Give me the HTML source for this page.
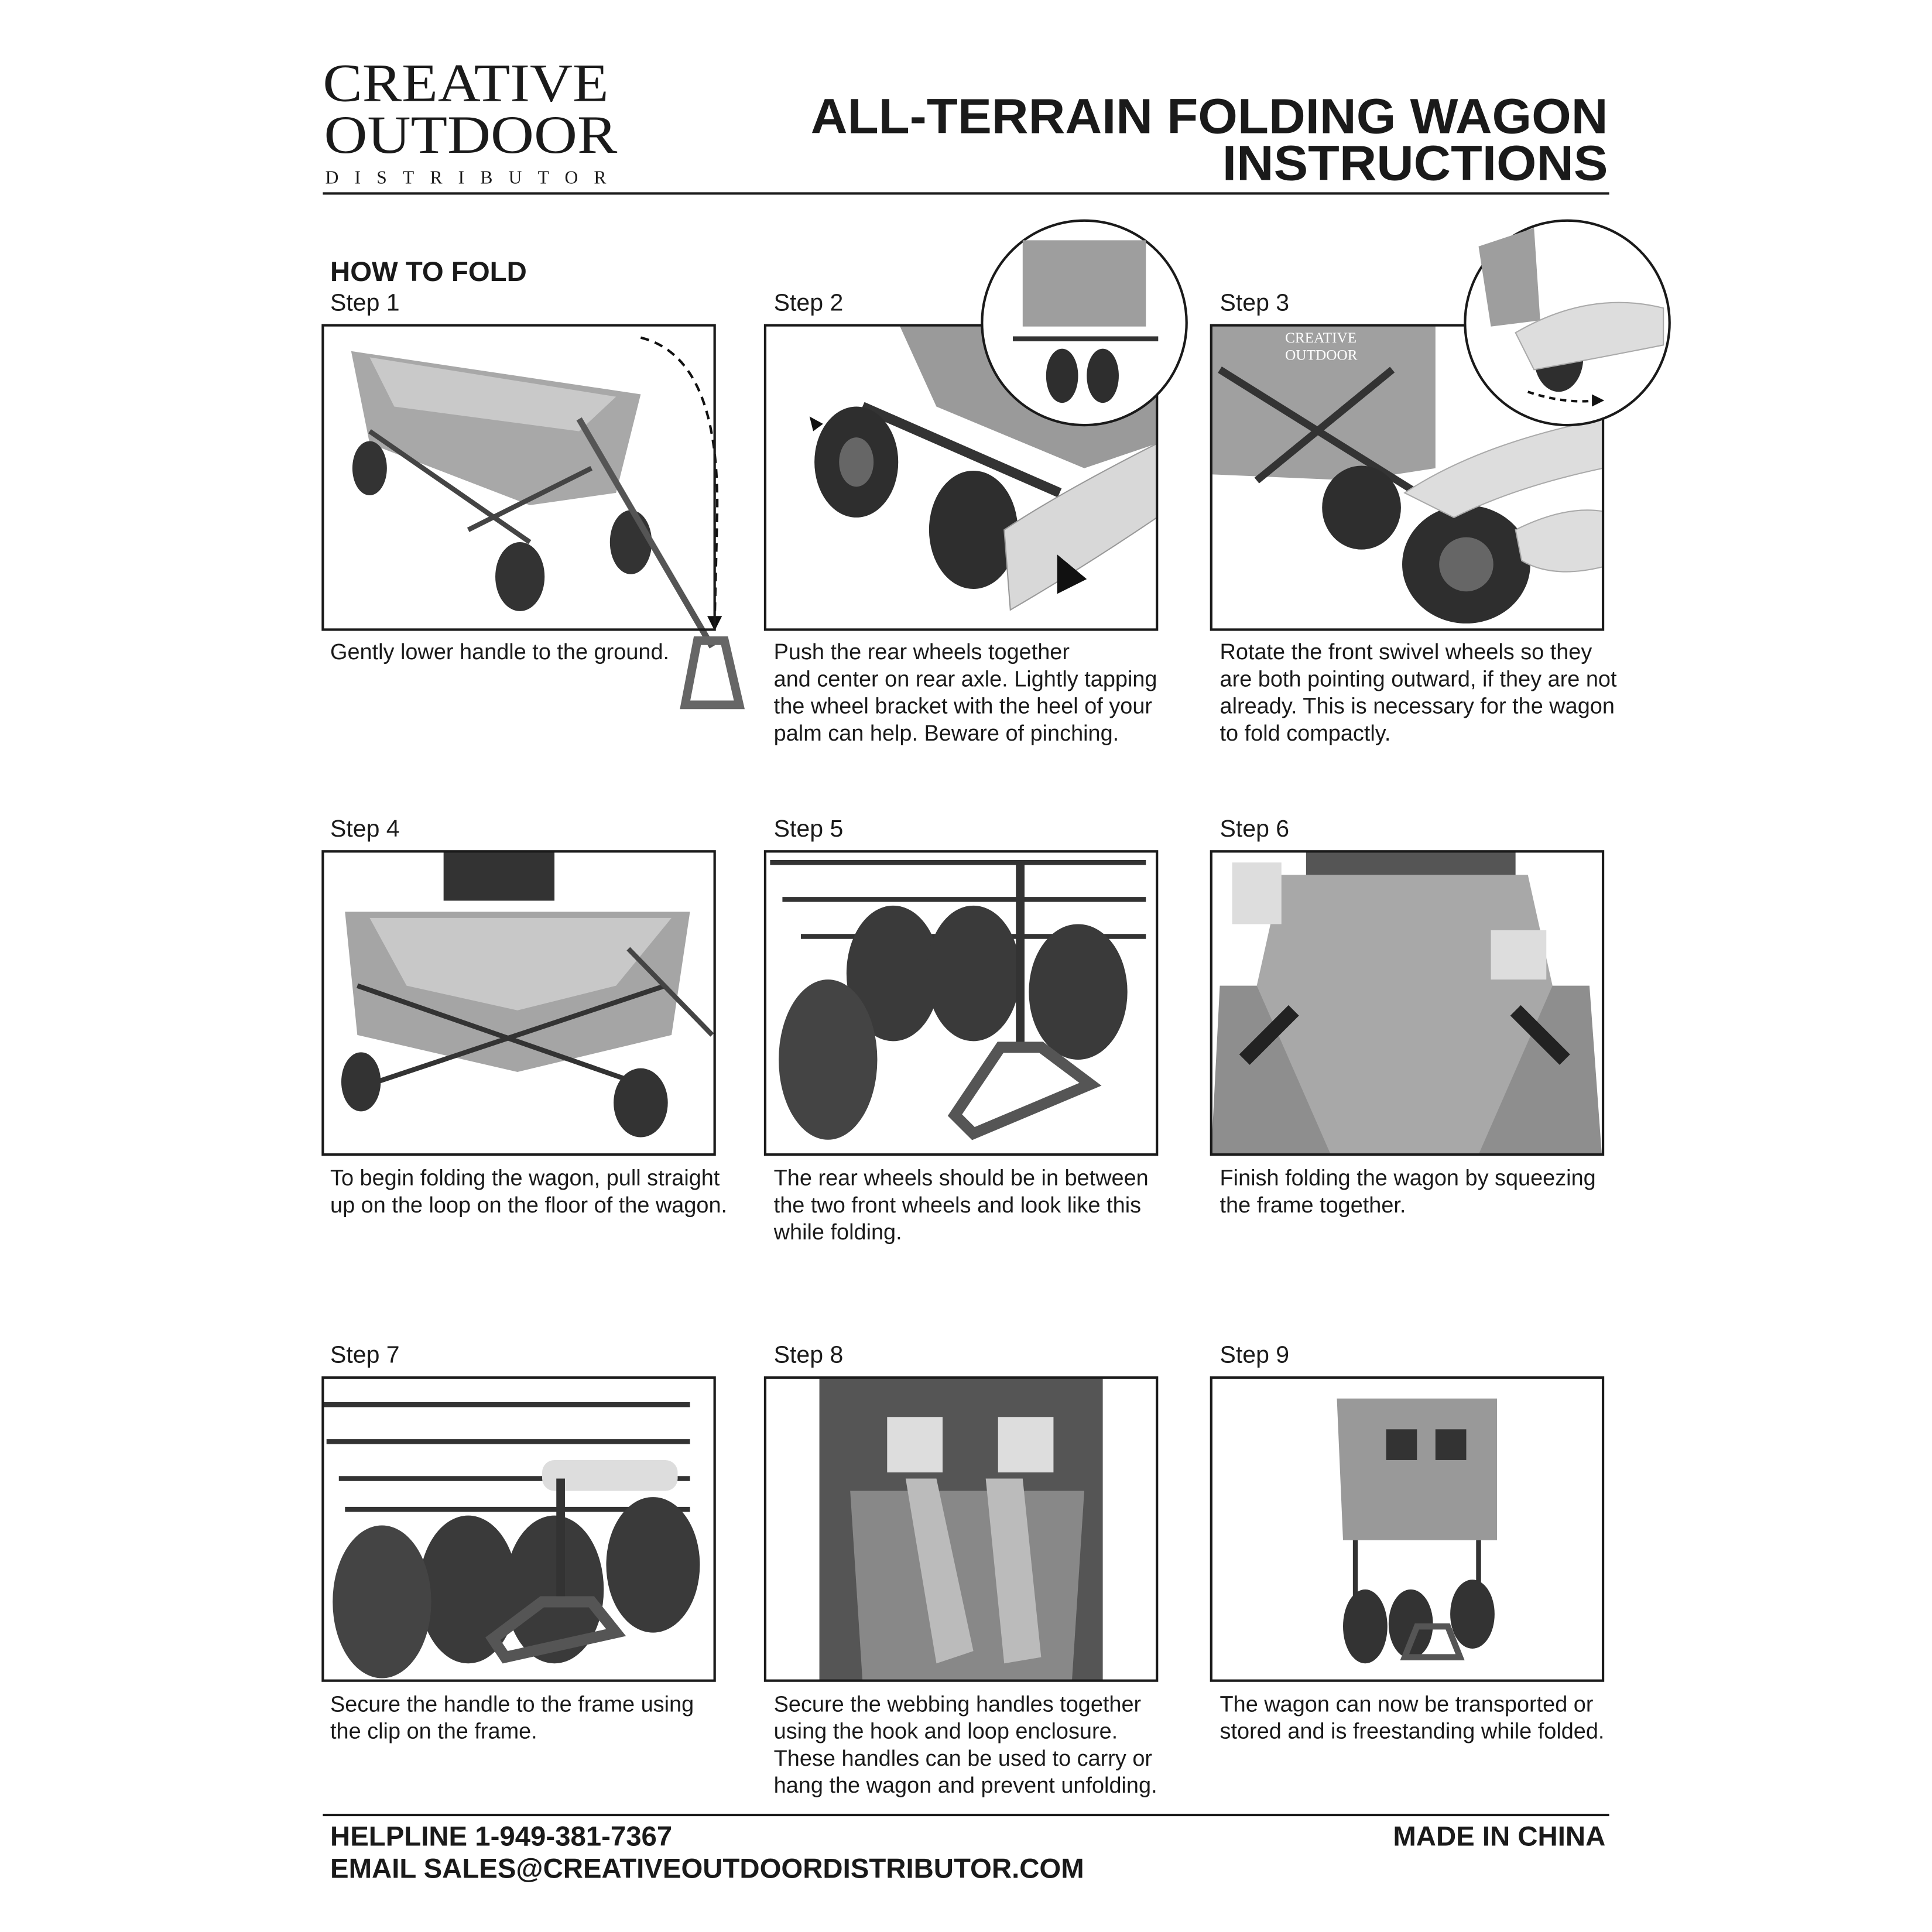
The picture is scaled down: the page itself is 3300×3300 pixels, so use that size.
<!DOCTYPE html>
<html><head><meta charset="utf-8"><style>
html,body{margin:0;padding:0;background:#fff;}
svg{display:block}
text{font-family:"Liberation Sans",sans-serif;fill:#1a1a1a}
.serif{font-family:"Liberation Serif",serif}
.st{font-size:19.5px}
.cap{font-size:18px}
.b{font-weight:bold}
</style></head><body>
<svg width="3300" height="3300" viewBox="0 0 1568 1568" xmlns="http://www.w3.org/2000/svg">
<rect width="1568" height="1568" fill="#fff"/>
<!-- Logo -->
<text x="378" y="82" class="serif" font-size="44" text-anchor="middle" textLength="232" lengthAdjust="spacingAndGlyphs">CREATIVE</text>
<text x="382" y="124" class="serif" font-size="44" text-anchor="middle" textLength="238" lengthAdjust="spacingAndGlyphs">OUTDOOR</text>
<text x="378" y="149" class="serif" font-size="15" text-anchor="middle" textLength="228" lengthAdjust="spacing">DISTRIBUTOR</text>
<!-- Title -->
<text x="1305" y="108" class="b" font-size="40" text-anchor="end" textLength="647" lengthAdjust="spacingAndGlyphs">ALL-TERRAIN FOLDING WAGON</text>
<text x="1305" y="146" class="b" font-size="40" text-anchor="end" textLength="313" lengthAdjust="spacingAndGlyphs">INSTRUCTIONS</text>
<line x1="262" y1="157" x2="1306" y2="157" stroke="#1a1a1a" stroke-width="2"/>

<text x="268" y="228" class="b" font-size="22.5">HOW TO FOLD</text>

<!-- Step labels -->
<text x="268" y="252" class="st">Step 1</text>
<text x="628" y="252" class="st">Step 2</text>
<text x="990" y="252" class="st">Step 3</text>
<text x="268" y="679" class="st">Step 4</text>
<text x="628" y="679" class="st">Step 5</text>
<text x="990" y="679" class="st">Step 6</text>
<text x="268" y="1106" class="st">Step 7</text>
<text x="628" y="1106" class="st">Step 8</text>
<text x="990" y="1106" class="st">Step 9</text>

<!-- Panel 1 -->
<g>
<polygon points="285,285 520,320 500,400 430,410 300,360" fill="#a8a8a8"/>
<polygon points="300,290 500,322 470,350 320,330" fill="#c9c9c9"/>
<line x1="300" y1="350" x2="430" y2="440" stroke="#444" stroke-width="4"/>
<line x1="480" y1="380" x2="380" y2="430" stroke="#444" stroke-width="4"/>
<ellipse cx="300" cy="380" rx="14" ry="22" fill="#333"/>
<ellipse cx="422" cy="468" rx="20" ry="28" fill="#333"/>
<ellipse cx="512" cy="440" rx="17" ry="26" fill="#333"/>
<line x1="470" y1="340" x2="578" y2="525" stroke="#555" stroke-width="5"/>
<path d="M566,520 L588,520 L600,572 L556,572 Z" fill="none" stroke="#666" stroke-width="7"/>
<path d="M520,274 Q585,290 582,420 L580,505" fill="none" stroke="#111" stroke-width="2" stroke-dasharray="7,5"/>
<polygon points="574,500 586,500 580,512" fill="#111"/>
</g>
<rect x="262" y="264" width="318" height="247" fill="none" stroke="#1a1a1a" stroke-width="2"/>

<!-- Panel 2 -->
<g>
<polygon points="730,264 939,264 939,360 880,380 760,330" fill="#9a9a9a"/>
<line x1="700" y1="330" x2="860" y2="400" stroke="#333" stroke-width="8"/>
<ellipse cx="695" cy="375" rx="34" ry="45" fill="#2e2e2e"/>
<ellipse cx="695" cy="375" rx="14" ry="20" fill="#666"/>
<ellipse cx="790" cy="430" rx="36" ry="48" fill="#2e2e2e"/>
<path d="M815,430 Q860,400 939,360 L939,420 Q880,460 820,495 Z" fill="#d8d8d8" stroke="#999"/>
<polygon points="858,450 882,470 858,482" fill="#111"/>
<polygon points="657,338 668,344 660,350" fill="#111"/>
</g>
<rect x="621" y="264" width="318" height="247" fill="none" stroke="#1a1a1a" stroke-width="2"/>
<circle cx="880" cy="262" r="83" fill="#fff" stroke="#1a1a1a" stroke-width="2"/>
<rect x="830" y="195" width="100" height="70" fill="#9e9e9e"/>
<ellipse cx="862" cy="305" rx="13" ry="22" fill="#2e2e2e"/>
<ellipse cx="895" cy="305" rx="13" ry="22" fill="#2e2e2e"/>
<line x1="822" y1="275" x2="940" y2="275" stroke="#333" stroke-width="4"/>

<!-- Panel 3 -->
<g>
<polygon points="983,264 1165,264 1165,380 1100,390 983,385" fill="#a0a0a0"/>
<text x="1043" y="278" font-size="12" class="serif" style="fill:#fff">CREATIVE</text>
<text x="1043" y="292" font-size="12" class="serif" style="fill:#fff">OUTDOOR</text>
<line x1="990" y1="300" x2="1150" y2="400" stroke="#333" stroke-width="6"/>
<line x1="1130" y1="300" x2="1020" y2="390" stroke="#333" stroke-width="6"/>
<ellipse cx="1105" cy="412" rx="32" ry="34" fill="#2e2e2e"/>
<ellipse cx="1190" cy="458" rx="52" ry="48" fill="#2e2e2e"/>
<ellipse cx="1190" cy="458" rx="22" ry="22" fill="#666"/>
<path d="M1140,400 Q1200,360 1301,340 L1301,380 Q1230,395 1180,420 Z" fill="#ddd" stroke="#aaa"/>
<path d="M1230,430 Q1270,410 1301,415 L1301,460 Q1260,470 1235,455 Z" fill="#ddd" stroke="#aaa"/>
</g>
<rect x="983" y="264" width="318" height="247" fill="none" stroke="#1a1a1a" stroke-width="2"/>
<circle cx="1272" cy="262" r="83" fill="#fff" stroke="#1a1a1a" stroke-width="2"/>
<polygon points="1200,200 1245,185 1250,260 1210,265" fill="#9e9e9e"/>
<ellipse cx="1265" cy="290" rx="20" ry="28" fill="#2e2e2e"/>
<path d="M1230,270 Q1290,235 1350,250 L1350,280 Q1300,290 1245,300 Z" fill="#ddd" stroke="#aaa"/>
<path d="M1240,318 Q1270,328 1295,325" fill="none" stroke="#111" stroke-width="2" stroke-dasharray="5,4"/>
<polygon points="1292,320 1302,325 1292,330" fill="#111"/>

<!-- Panel 4 -->
<g>
<rect x="360" y="691" width="90" height="40" fill="#333"/>
<polygon points="280,740 560,740 545,840 420,870 290,840" fill="#a5a5a5"/>
<polygon points="300,745 545,745 500,800 420,820 330,800" fill="#c8c8c8"/>
<line x1="290" y1="800" x2="520" y2="880" stroke="#333" stroke-width="4"/>
<line x1="540" y1="800" x2="300" y2="880" stroke="#333" stroke-width="4"/>
<ellipse cx="293" cy="878" rx="16" ry="24" fill="#333"/>
<ellipse cx="520" cy="895" rx="22" ry="28" fill="#333"/>
<line x1="510" y1="770" x2="578" y2="840" stroke="#444" stroke-width="4"/>
</g>
<rect x="262" y="691" width="318" height="246" fill="none" stroke="#1a1a1a" stroke-width="2"/>

<!-- Panel 5 -->
<g>
<path d="M625,700 L930,700 M635,730 L930,730 M650,760 L930,760" stroke="#333" stroke-width="4" fill="none"/>
<ellipse cx="725" cy="790" rx="38" ry="55" fill="#3a3a3a"/>
<ellipse cx="790" cy="790" rx="38" ry="55" fill="#3a3a3a"/>
<ellipse cx="875" cy="805" rx="40" ry="55" fill="#3a3a3a"/>
<ellipse cx="672" cy="860" rx="40" ry="65" fill="#444"/>
<line x1="828" y1="700" x2="828" y2="850" stroke="#333" stroke-width="7"/>
<path d="M812,850 L845,850 L885,880 L790,920 L775,905 Z" fill="none" stroke="#555" stroke-width="9"/>
</g>
<rect x="621" y="691" width="318" height="246" fill="none" stroke="#1a1a1a" stroke-width="2"/>

<!-- Panel 6 -->
<g>
<rect x="1060" y="691" width="170" height="60" fill="#555"/>
<polygon points="990,800 1290,800 1300,937 983,937" fill="#8e8e8e"/>
<polygon points="1040,710 1240,710 1260,800 1200,937 1080,937 1020,800" fill="#a8a8a8"/>
<path d="M1010,860 L1050,820 M1270,860 L1230,820" stroke="#222" stroke-width="12"/>
<rect x="1000" y="700" width="40" height="50" fill="#ddd"/>
<rect x="1210" y="755" width="45" height="40" fill="#ddd"/>
</g>
<rect x="983" y="691" width="318" height="246" fill="none" stroke="#1a1a1a" stroke-width="2"/>

<!-- Panel 7 -->
<g>
<path d="M262,1140 L560,1140 M265,1170 L560,1170 M275,1200 L560,1200 M280,1225 L560,1225" stroke="#333" stroke-width="4" fill="none"/>
<ellipse cx="380" cy="1290" rx="40" ry="60" fill="#3a3a3a"/>
<ellipse cx="450" cy="1290" rx="40" ry="60" fill="#3a3a3a"/>
<ellipse cx="530" cy="1270" rx="38" ry="55" fill="#3a3a3a"/>
<ellipse cx="310" cy="1300" rx="40" ry="62" fill="#444"/>
<rect x="440" y="1185" width="110" height="25" rx="10" fill="#ddd"/>
<line x1="455" y1="1200" x2="455" y2="1300" stroke="#333" stroke-width="7"/>
<path d="M440,1300 L480,1300 L500,1325 L410,1345 L400,1330 Z" fill="none" stroke="#555" stroke-width="9"/>
</g>
<rect x="262" y="1118" width="318" height="246" fill="none" stroke="#1a1a1a" stroke-width="2"/>

<!-- Panel 8 -->
<g>
<rect x="665" y="1118" width="230" height="246" fill="#555"/>
<polygon points="690,1210 880,1210 870,1364 700,1364" fill="#888"/>
<polygon points="735,1200 760,1200 790,1340 760,1350" fill="#bbb"/>
<polygon points="800,1200 830,1200 845,1345 815,1350" fill="#bbb"/>
<rect x="720" y="1150" width="45" height="45" fill="#ddd"/>
<rect x="810" y="1150" width="45" height="45" fill="#ddd"/>
</g>
<rect x="621" y="1118" width="318" height="246" fill="none" stroke="#1a1a1a" stroke-width="2"/>

<!-- Panel 9 -->
<g>
<polygon points="1085,1135 1215,1135 1215,1250 1090,1250" fill="#999"/>
<rect x="1125" y="1160" width="25" height="25" fill="#333"/>
<rect x="1165" y="1160" width="25" height="25" fill="#333"/>
<line x1="1100" y1="1250" x2="1100" y2="1300" stroke="#333" stroke-width="4"/>
<line x1="1200" y1="1250" x2="1200" y2="1300" stroke="#333" stroke-width="4"/>
<ellipse cx="1108" cy="1320" rx="18" ry="30" fill="#333"/>
<ellipse cx="1145" cy="1318" rx="18" ry="28" fill="#333"/>
<ellipse cx="1195" cy="1310" rx="18" ry="28" fill="#333"/>
<path d="M1150,1320 L1175,1320 L1185,1345 L1140,1345 Z" fill="none" stroke="#555" stroke-width="5"/>
</g>
<rect x="983" y="1118" width="318" height="246" fill="none" stroke="#1a1a1a" stroke-width="2"/>

<!-- Captions -->
<g class="cap">
<text x="268" y="535">Gently lower handle to the ground.</text>
<text x="628" y="535">Push the rear wheels together</text>
<text x="628" y="557">and center on rear axle. Lightly tapping</text>
<text x="628" y="579">the wheel bracket with the heel of your</text>
<text x="628" y="601">palm can help. Beware of pinching.</text>
<text x="990" y="535">Rotate the front swivel wheels so they</text>
<text x="990" y="557">are both pointing outward, if they are not</text>
<text x="990" y="579">already. This is necessary for the wagon</text>
<text x="990" y="601">to fold compactly.</text>
<text x="268" y="962">To begin folding the wagon, pull straight</text>
<text x="268" y="984">up on the loop on the floor of the wagon.</text>
<text x="628" y="962">The rear wheels should be in between</text>
<text x="628" y="984">the two front wheels and look like this</text>
<text x="628" y="1006">while folding.</text>
<text x="990" y="962">Finish folding the wagon by squeezing</text>
<text x="990" y="984">the frame together.</text>
<text x="268" y="1389">Secure the handle to the frame using</text>
<text x="268" y="1411">the clip on the frame.</text>
<text x="628" y="1389">Secure the webbing handles together</text>
<text x="628" y="1411">using the hook and loop enclosure.</text>
<text x="628" y="1433">These handles can be used to carry or</text>
<text x="628" y="1455">hang the wagon and prevent unfolding.</text>
<text x="990" y="1389">The wagon can now be transported or</text>
<text x="990" y="1411">stored and is freestanding while folded.</text>
</g>

<!-- Footer -->
<line x1="262" y1="1473" x2="1306" y2="1473" stroke="#1a1a1a" stroke-width="2"/>
<text x="268" y="1498" class="b" font-size="22.5">HELPLINE 1-949-381-7367</text>
<text x="268" y="1524" class="b" font-size="22.5">EMAIL SALES@CREATIVEOUTDOORDISTRIBUTOR.COM</text>
<text x="1303" y="1498" class="b" font-size="22.5" text-anchor="end">MADE IN CHINA</text>
</svg>
</body></html>
